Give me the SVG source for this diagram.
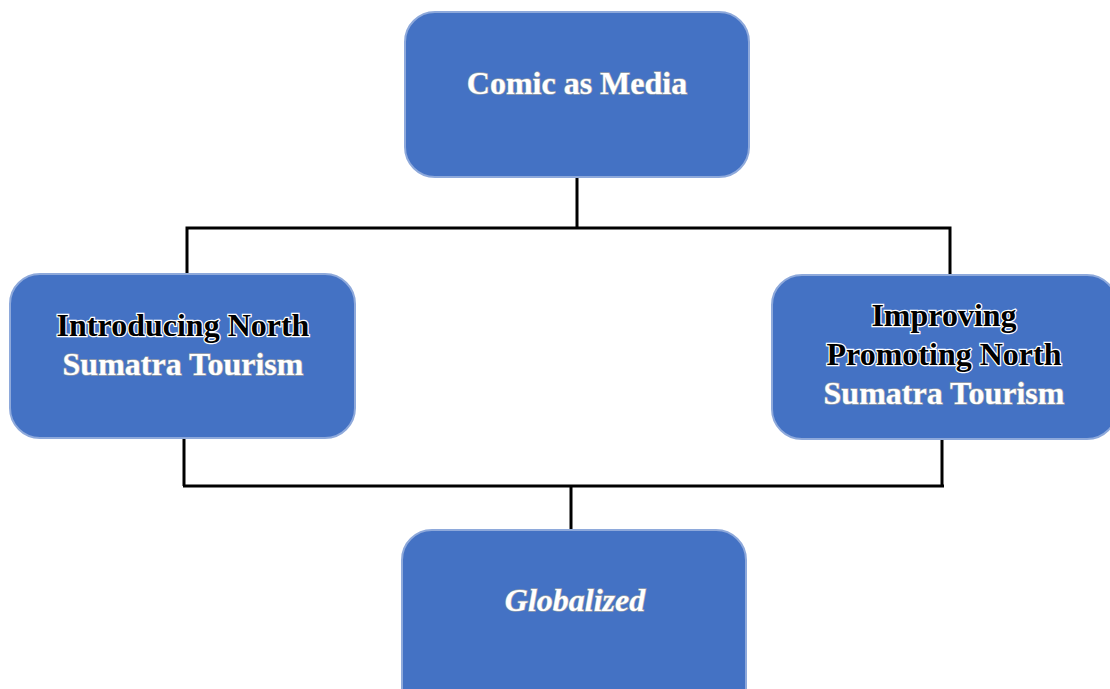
<svg xmlns="http://www.w3.org/2000/svg" width="1110" height="689" viewBox="0 0 1110 689">
<defs>
<style>
.box{fill:#4472C4;stroke:#8EA9DB;stroke-width:2}
.t{font-family:"Liberation Serif","Times New Roman",serif;font-weight:bold;font-size:32px;text-anchor:middle}
.w{fill:#ffffff;stroke:#9aa0a8;stroke-width:1.4;paint-order:stroke}
.k{fill:#000000;stroke:#ffffff;stroke-width:2.4;paint-order:stroke}
.c{fill:none;stroke:#000;stroke-width:3}
</style>
</defs>
<rect width="1110" height="689" fill="#ffffff"/>
<g id="connectors">
<path class="c" d="M577 177V228M187 273V228H950V275"/>
<path class="c" d="M184 438V486M942 439V486M183 486H944M571 486V531"/>
</g>
<g id="comic">
<rect class="box" x="405" y="12" width="344" height="165" rx="30"/>
<text class="t w" x="577" y="94">Comic as Media</text>
</g>
<g id="introducing">
<rect class="box" x="10" y="274" width="345" height="164" rx="30"/>
<text class="t k" x="183" y="336">Introducing North</text>
<text class="t w" x="183" y="375">Sumatra Tourism</text>
</g>
<g id="improving">
<rect class="box" x="772" y="275" width="345" height="164" rx="30"/>
<text class="t k" x="944" y="326">Improving</text>
<text class="t k" x="944" y="365">Promoting North</text>
<text class="t w" x="944" y="404">Sumatra Tourism</text>
</g>
<g id="globalized">
<rect class="box" x="402" y="530" width="344" height="190" rx="30"/>
<text class="t w" x="575" y="611" font-style="italic">Globalized</text>
</g>
</svg>
